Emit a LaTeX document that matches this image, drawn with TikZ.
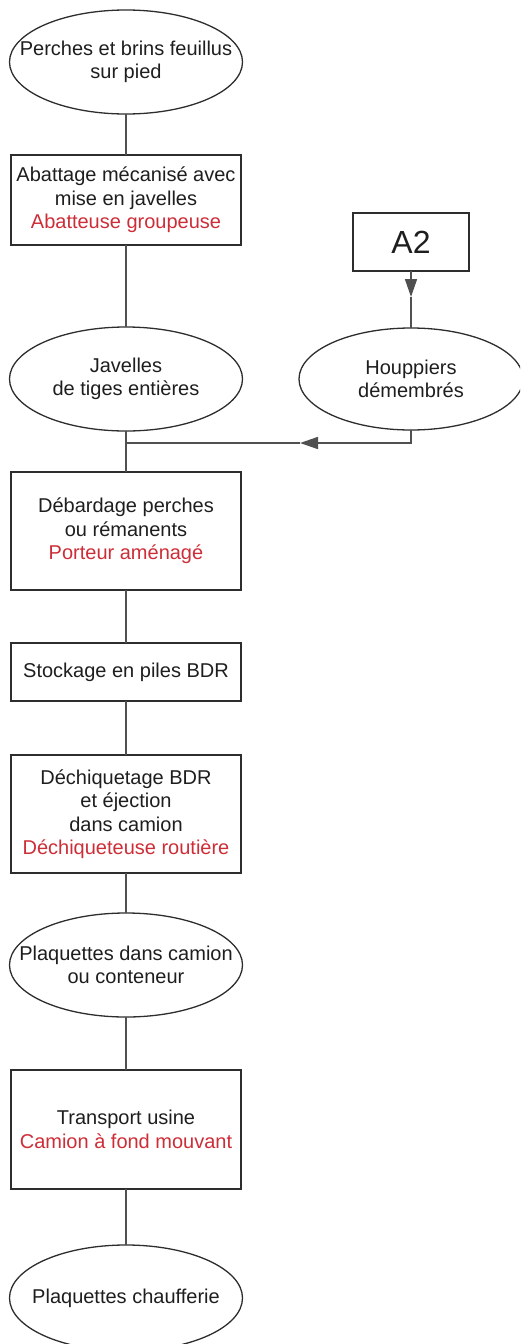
\documentclass[tikz,border=0pt]{standalone}
\usepackage{fontspec}
\setmainfont{Liberation Sans}
\usetikzlibrary{shapes.geometric,arrows.meta}
\definecolor{ink}{RGB}{30,30,30}
\definecolor{edge}{RGB}{45,45,45}
\definecolor{wire}{RGB}{80,80,80}
\definecolor{tool}{RGB}{205,45,55}

\begin{document}
\begin{tikzpicture}[x=1pt,y=-1pt,
  every node/.style={inner sep=0pt, outer sep=0pt},
  txt/.style={align=center, font=\fontsize{20}{23.5}\selectfont, text=ink},
  stepbox/.style={draw=edge, line width=1.3pt, rectangle, minimum width=230pt, txt},
  state/.style={draw=edge, line width=1.3pt, ellipse, minimum width=233pt, minimum height=104pt},
  link/.style={draw=wire, line width=1.6pt},
  tip/.style={-{Triangle[length=18pt,width=12pt]}}
]
\useasboundingbox (0,0) rectangle (520,1344);
\clip (0,0) rectangle (520,1344);

% main column
\node[state] (perch) at (126,62) {};
\node[txt] at (perch) {Perches et brins feuillus\\sur pied};

\node[stepbox, minimum height=90pt] (abat) at (126,200)
  {Abattage mécanisé avec\\mise en javelles\\\textcolor{tool}{Abatteuse groupeuse}};

\node[state] (jav) at (126,379) {};
\node[txt] at (jav) {Javelles\\de tiges entières};

\node[stepbox, minimum height=118pt] (debard) at (126,531)
  {Débardage perches\\ou rémanents\\\textcolor{tool}{Porteur aménagé}};

\node[stepbox, minimum height=58pt] (stock) at (126,672)
  {Stockage en piles BDR};

\node[stepbox, minimum height=118pt] (dechi) at (126,814)
  {Déchiquetage BDR\\et éjection\\dans camion\\\textcolor{tool}{Déchiqueteuse routière}};

\node[state] (plaq) at (126,965) {};
\node[txt] at (plaq) {Plaquettes dans camion\\ou conteneur};

\node[stepbox, minimum height=119pt] (trans) at (126,1129.5)
  {Transport usine\\\textcolor{tool}{Camion à fond mouvant}};

\node[state, minimum height=106pt] (chauf) at (126,1298) {};
\node[txt] at (chauf) {Plaquettes chaufferie};

% side branch
\node[draw=edge, line width=1.3pt, minimum width=116pt, minimum height=58pt,
      font=\fontsize{32}{34}\selectfont, text=ink] (a2) at (411,242) {A2};
\node[state, minimum width=224pt, minimum height=102pt] (houp) at (411,379) {};
\node[txt] at (houp) {Houppiers\\démembrés};

\coordinate (a2tip) at (411,297);
\coordinate (join) at (126,443);
\coordinate (htip) at (300,443);

% connectors
\draw[link] (perch) -- (abat);
\draw[link] (abat) -- (jav);
\draw[link] (jav) -- (debard);
\draw[link] (debard) -- (stock);
\draw[link] (stock) -- (dechi);
\draw[link] (dechi) -- (plaq);
\draw[link] (plaq) -- (trans);
\draw[link] (trans) -- (chauf);

\draw[link, tip] (a2.south) -- (a2tip);
\draw[link] (a2tip) -- (houp.north);
\draw[link, tip] (houp.south) |- (htip);
\draw[link] (htip) -- (join);
\end{tikzpicture}
\end{document}
